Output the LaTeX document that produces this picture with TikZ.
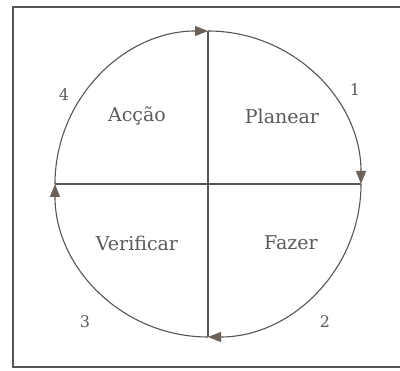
\documentclass[tikz,border=0pt]{standalone}
\usepackage{fontspec}
\setmainfont{DejaVu Serif}
\usetikzlibrary{arrows.meta}
\definecolor{ink}{HTML}{555555}
\definecolor{txt}{HTML}{5A5A5A}
\definecolor{tip}{HTML}{6E6258}
\tikzset{
  frameline/.style={draw=ink, line width=1.1pt},
  cycarc/.style={draw=ink, line width=1.1pt, -{Triangle[length=13pt,width=10pt,fill=tip,color=tip]}},
  axis/.style={draw=ink, line width=1.1pt},
  lbl/.style={text=txt, font=\fontsize{19}{22}\selectfont, inner sep=0pt},
  num/.style={text=txt, font=\fontsize{16}{18}\selectfont, inner sep=0pt}
}
\begin{document}
\begin{tikzpicture}[x=1pt,y=1pt]
\useasboundingbox (0,0) rectangle (400,371);
% frame
\coordinate (fbl) at (13,4);
\coordinate (ftl) at (13,364);
\coordinate (fbr) at (410,4);
\coordinate (ftr) at (410,364);
\draw[frameline] (ftr) -- (ftl) -- (fbl) -- (fbr);
% circle quadrant points
\coordinate (c) at (208,187);
\coordinate (top) at (208,340);
\coordinate (right) at (361,187);
\coordinate (bot) at (208,34);
\coordinate (left) at (55,187);
% axes
\draw[axis] (top) -- (bot);
\draw[axis] (left) -- (right);
% arcs
\draw[cycarc] (left) arc[start angle=180, end angle=90, radius=153];
\draw[cycarc] (top) arc[start angle=90, end angle=0, radius=153];
\draw[cycarc] (right) arc[start angle=0, end angle=-90, radius=153];
\draw[cycarc] (bot) arc[start angle=270, end angle=180, radius=153];
% labels
\node[lbl] (accao) at (137,255) {Acção};
\node[lbl] (planear) at (282,255) {Planear};
\node[lbl] (verificar) at (137,128) {Verificar};
\node[lbl] (fazer) at (291,128) {Fazer};
% numbers
\node[num] (n4) at (64,276) {4};
\node[num] (n1) at (355,281) {1};
\node[num] (n3) at (85,49) {3};
\node[num] (n2) at (325,49) {2};
\end{tikzpicture}
\end{document}
